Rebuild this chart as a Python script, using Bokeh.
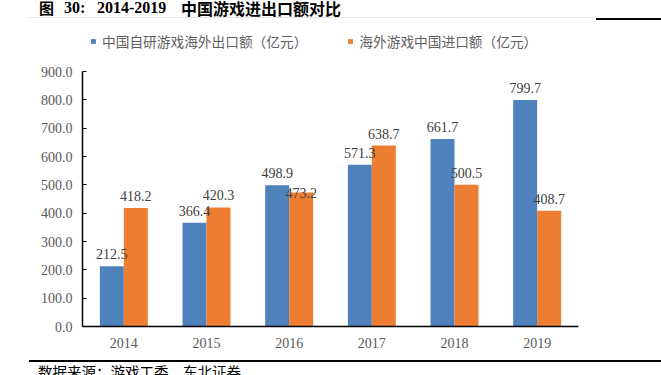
from bokeh.plotting import figure
from bokeh.models import (ColumnDataSource, FactorRange, Range1d, FixedTicker, NumeralTickFormatter,
                          LabelSet, Legend, LegendItem, Div)
from bokeh.layouts import column
from bokeh.transform import dodge
from bokeh.core.properties import value
from bokeh.embed import file_html
from bokeh.resources import INLINE

years = ["2014", "2015", "2016", "2017", "2018", "2019"]
export_vals = [212.5, 366.4, 498.9, 571.3, 661.7, 799.7]
import_vals = [418.2, 420.3, 473.2, 638.7, 500.5, 408.7]
export_name = "中国自研游戏海外出口额（亿元）"
import_name = "海外游戏中国进口额（亿元）"
y_ticks = [0, 100, 200, 300, 400, 500, 600, 700, 800, 900]
title_fig = "图"
title_num = "30:"
title_years = "2014-2019"
title_text = "中国游戏进出口额对比"
source_text = "数据来源：游戏工委，东北证券"

BLUE = "#4F81BD"
ORANGE = "#ED7D31"
GRAY = "#595959"
SERIF = "Liberation Serif"
CJK = "Noto Sans CJK SC"

W = 661
HEAD_H = 22
FOOT_H = 21
FIG_H = 375 - HEAD_H - FOOT_H      # 332
FL, FR = 82, 578                   # frame left / right (px)
FT = 0                             # frame top inside figure (abs 22)
FB = 326 - HEAD_H                  # frame bottom inside figure
AXIS_TOP = 71 - HEAD_H             # where 900 sits inside figure
y_max = 900 * (FB - FT) / (FB - AXIS_TOP)

src = ColumnDataSource(dict(
    year=years,
    exp=export_vals,
    imp=import_vals,
    exp_txt=[f"{v:.1f}" for v in export_vals],
    imp_txt=[f"{v:.1f}" for v in import_vals],
    exp_dy=[7, 7, 7, 7, 7, 7],
    imp_dy=[7, 7, -6, 7, 7, 7],
))

p = figure(width=W, height=FIG_H, x_range=FactorRange(factors=years), y_range=Range1d(0, y_max),
           output_backend="svg", toolbar_location=None, margin=0,
           min_border_left=FL, min_border_right=W - FR, min_border_top=FT,
           min_border_bottom=FIG_H - FB)
p.outline_line_color = None
p.xgrid.grid_line_color = None
p.ygrid.grid_line_color = None
p.background_fill_color = "white"
p.border_fill_color = "white"

r1 = p.vbar(x=dodge("year", -0.145, range=p.x_range), top="exp", width=0.29, source=src,
            fill_color=BLUE, line_color=None)
r2 = p.vbar(x=dodge("year", 0.145, range=p.x_range), top="imp", width=0.29, source=src,
            fill_color=ORANGE, line_color=None)

for col, txt, dy, off in (("exp", "exp_txt", "exp_dy", -0.145), ("imp", "imp_txt", "imp_dy", 0.145)):
    ls = LabelSet(x=dodge("year", off, range=p.x_range), y=col, text=txt, source=src,
                  text_align="center", text_baseline="alphabetic", y_offset=dy,
                  text_font=value(SERIF), text_font_size="14px", text_color="#404040")
    p.add_layout(ls)

ya = p.yaxis[0]
ya.ticker = FixedTicker(ticks=y_ticks)
ya.bounds = (0, 900)
ya.formatter = NumeralTickFormatter(format="0.0")
ya.major_label_text_font = SERIF
ya.major_label_text_font_size = "14px"
ya.major_label_text_color = GRAY
ya.axis_line_color = "black"
ya.axis_line_width = 1.5
ya.major_tick_in = 4
ya.major_tick_out = 0
ya.major_tick_line_color = "black"
ya.minor_tick_line_color = None
ya.major_label_standoff = 10

xa = p.xaxis[0]
xa.major_label_text_font = SERIF
xa.major_label_text_font_size = "14px"
xa.major_label_text_color = GRAY
xa.axis_line_color = "black"
xa.axis_line_width = 1.5
xa.major_tick_line_color = None
xa.minor_tick_line_color = None
xa.major_label_standoff = 5

legend = Legend(items=[LegendItem(label=export_name, renderers=[r1]),
                       LegendItem(label=import_name, renderers=[r2])],
                orientation="horizontal", location=(8, (FB - FT) - 29),
                glyph_width=6, glyph_height=6, label_standoff=6, spacing=40,
                label_text_font=CJK, label_text_font_size="13.7px", label_text_color="#606060",
                padding=0, margin=0, border_line_color=None, background_fill_alpha=0,
                label_height=20)
p.add_layout(legend)


def span(text, left, top, font, size, weight="normal", color="black", lh=20):
    return (f'<span style="position:absolute;left:{left}px;top:{top}px;font-family:\'{font}\';'
            f'font-size:{size}px;font-weight:{weight};color:{color};line-height:{lh}px;'
            f'white-space:nowrap;">{text}</span>')


head_html = (
    f'<div style="position:relative;width:{W}px;height:{HEAD_H}px;overflow:hidden;margin:0;">'
    + span(title_fig, 39, 0, CJK, 15, "bold", lh=16)
    + span(title_num, 64, 0, SERIF, 16, "bold", lh=16)
    + span(title_years, 97, 0, SERIF, 16, "bold", lh=16)
    + span(title_text, 181, 0, CJK, 16, "bold", lh=16)
    + '<div style="position:absolute;left:29px;top:17px;width:567px;height:1px;background:#E6E6E6;"></div>'
    + '<div style="position:absolute;left:596px;top:18px;width:65px;height:2px;background:#000;"></div>'
    + '</div>'
)
foot_html = (
    f'<div style="position:relative;width:{W}px;height:{FOOT_H}px;overflow:hidden;margin:0;">'
    + '<div style="position:absolute;left:29px;top:6px;width:632px;height:2px;background:#000;"></div>'
    + span(source_text, 38, 8, CJK, 14.5)
    + '</div>'
)

head = Div(text=head_html, width=W, height=HEAD_H, margin=0)
foot = Div(text=foot_html, width=W, height=FOOT_H, margin=0)

layout = column(head, p, foot, spacing=0, margin=0)
open("out.html", "w").write(file_html(layout, INLINE))
